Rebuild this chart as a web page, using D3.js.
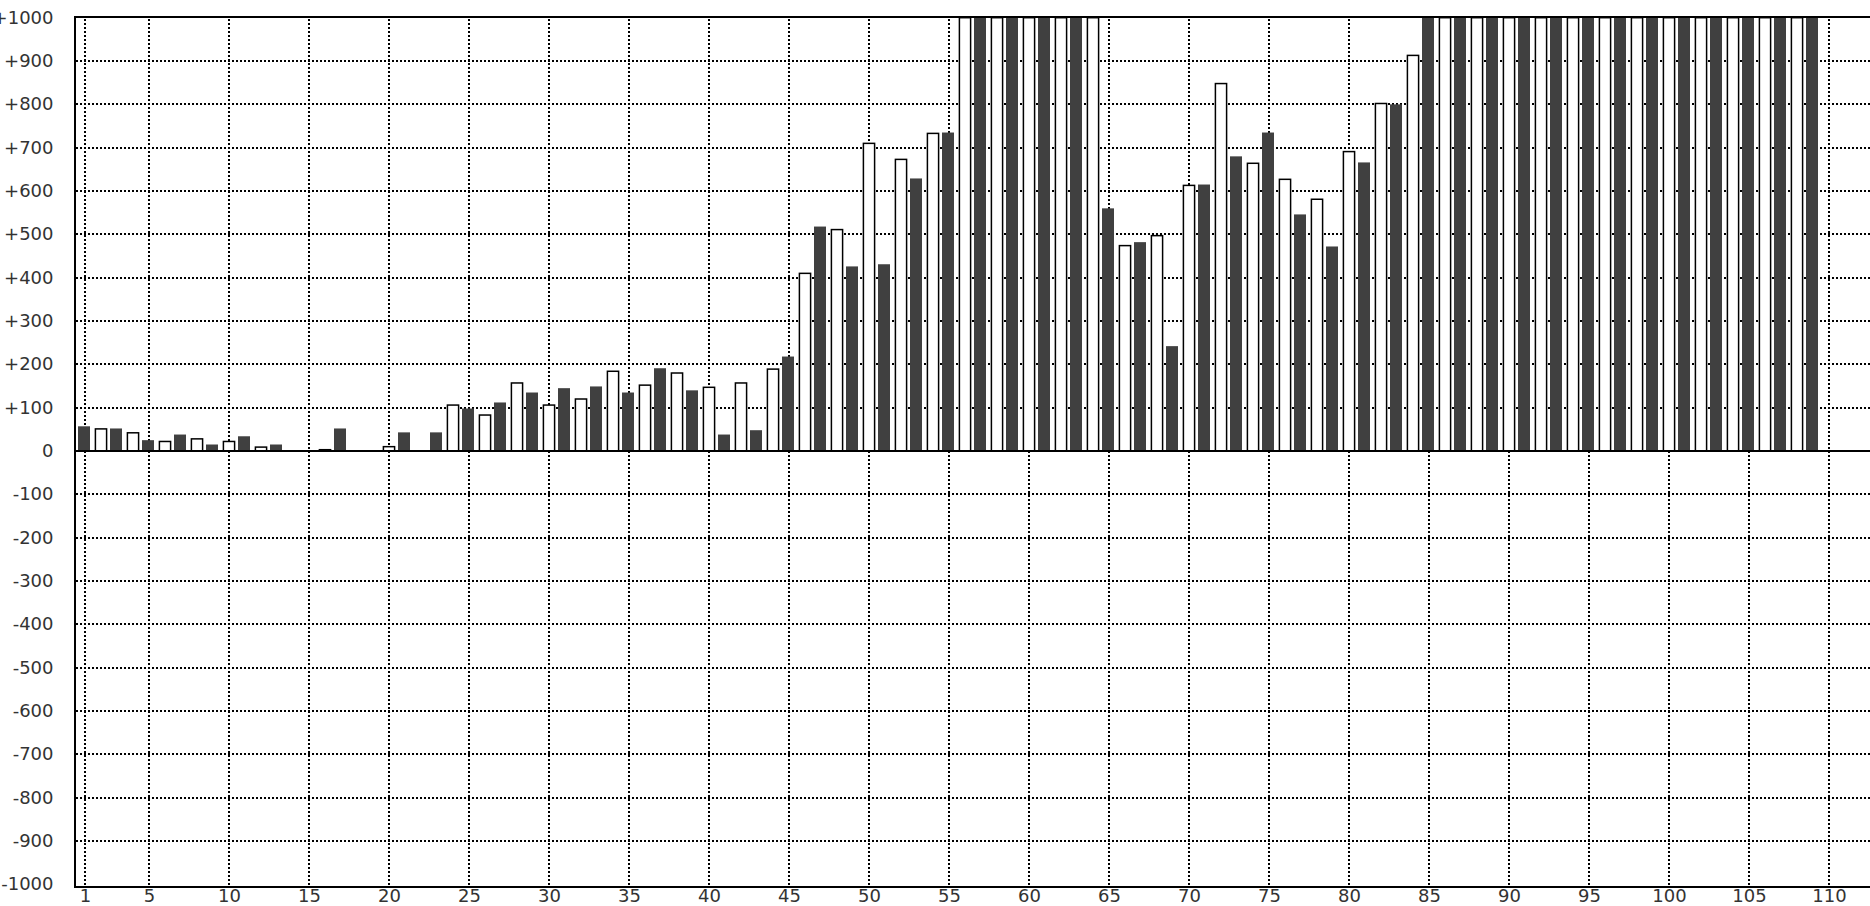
<!DOCTYPE html>
<html>
<head>
<meta charset="utf-8">
<script src="https://cdn.jsdelivr.net/npm/d3@7"></script>
<style>
  html, body { margin: 0; padding: 0; background: #fff; overflow: hidden; }
  svg { display: block; }
  text { font-family: "DejaVu Sans", sans-serif; }
</style>
</head>
<body>
<script>
// ---- data ----
const categories = d3.range(1, 110); // 1..109
const values = [
  57, 51, 52, 42, 25, 22, 38, 28, 15, 22,
  34, 9, 15, 0, 0, 3, 52, 0, 0, 10,
  43, 0, 43, 106, 98, 83, 112, 157, 135, 106,
  145, 120, 149, 184, 135, 152, 191, 180, 140, 147,
  38, 157, 48, 189, 218, 410, 518, 511, 426, 710,
  431, 673, 629, 733, 735, 1000, 1000, 1000, 1000, 1000,
  1000, 1000, 1000, 1000, 560, 474, 482, 497, 242, 613,
  615, 848, 680, 664, 735, 627, 546, 581, 472, 691,
  666, 802, 800, 913, 1000, 1000, 1000, 1000, 1000, 1000,
  1000, 1000, 1000, 1000, 1000, 1000, 1000, 1000, 1000, 1000,
  1000, 1000, 1000, 1000, 1000, 1000, 1000, 1000, 1000
];
const xTicks = [1, 5, 10, 15, 20, 25, 30, 35, 40, 45, 50, 55, 60, 65, 70, 75, 80, 85, 90, 95, 100, 105, 110];
const yTicks = [-1000, -900, -800, -700, -600, -500, -400, -300, -200, -100, 0, 100, 200, 300, 400, 500, 600, 700, 800, 900, 1000];
const yGrid = yTicks.filter(v => v !== 0 && Math.abs(v) !== 1000);

// ---- layout ----
const W = 1870, H = 906;
const x = d3.scaleLinear().domain([1, 110]).range([85, 1829]);
const y = d3.scaleLinear().domain([-1000, 1000]).range([884.3, 17.7]);
const pLeft = 75, pTop = 17, pBottom = 887, pRight = W;

const svg = d3.select("body").append("svg").attr("width", W).attr("height", H);

svg.append("defs").append("clipPath").attr("id", "plotclip")
  .append("rect").attr("x", pLeft).attr("y", pTop).attr("width", pRight - pLeft).attr("height", pBottom - pTop);

// grid
const grid = svg.append("g").attr("stroke", "#000").attr("stroke-width", 2)
  .attr("stroke-dasharray", "2,2").attr("shape-rendering", "crispEdges");
grid.selectAll("line.h").data(yGrid).join("line").attr("class", "h")
  .attr("x1", pLeft + 1).attr("x2", pRight)
  .attr("y1", d => Math.round(y(d))).attr("y2", d => Math.round(y(d)));
grid.selectAll("line.v").data(xTicks).join("line").attr("class", "v")
  .attr("y1", pTop + 2).attr("y2", pBottom - 1)
  .attr("x1", d => x(d)).attr("x2", d => x(d));

// bars
const bars = svg.append("g").attr("clip-path", "url(#plotclip)");
const data = categories.map((c, i) => ({ c, v: values[i] }));
bars.selectAll("rect").data(data.filter(d => d.v > 0)).join("rect")
  .attr("x", d => d.c % 2 === 1 ? x(d.c) - 7 : x(d.c) - 5.6)
  .attr("width", d => d.c % 2 === 1 ? 12 : 11.2)
  .attr("y", d => y(d.v))
  .attr("height", d => y(0) - y(d.v))
  .attr("fill", d => d.c % 2 === 1 ? "#404040" : "#fff")
  .attr("stroke", d => d.c % 2 === 1 ? "none" : "#000")
  .attr("stroke-width", 1.5);

// frame and zero line
const frame = svg.append("g").attr("stroke", "#000").attr("stroke-width", 2).attr("shape-rendering", "crispEdges");
frame.append("line").attr("x1", pLeft).attr("x2", pRight).attr("y1", pTop).attr("y2", pTop);
frame.append("line").attr("x1", pLeft).attr("x2", pRight).attr("y1", pBottom).attr("y2", pBottom);
frame.append("line").attr("x1", pLeft).attr("x2", pLeft).attr("y1", pTop - 1).attr("y2", pBottom + 1);
frame.append("line").attr("x1", pLeft).attr("x2", pRight).attr("y1", Math.round(y(0))).attr("y2", Math.round(y(0)));

// axes (labels only)
const fmtY = v => v > 0 ? "+" + v : (v < 0 ? "-" + Math.abs(v) : "0");
const yAxis = svg.append("g").attr("transform", `translate(${pLeft},0)`)
  .call(d3.axisLeft(y).tickValues(yTicks).tickSize(0).tickPadding(21.5).tickFormat(fmtY));
const xAxis = svg.append("g").attr("transform", `translate(0,${pBottom})`)
  .call(d3.axisBottom(x).tickValues(xTicks).tickSize(0).tickPadding(2.5).tickFormat(d3.format("d")));
[yAxis, xAxis].forEach(a => {
  a.select(".domain").remove();
  a.selectAll("text").attr("font-family", "'DejaVu Sans', sans-serif")
    .attr("font-size", 18).attr("fill", "#333");
});
yAxis.selectAll("text").attr("dy", "0.3em");
</script>
</body>
</html>
